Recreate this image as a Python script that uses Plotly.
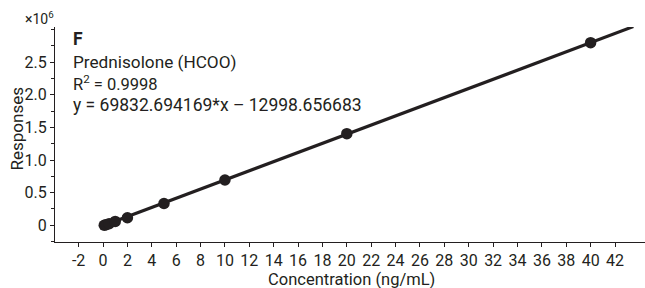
import plotly.graph_objects as go

conc = [0.1, 0.25, 0.5, 1, 2, 5, 10, 20, 40]
resp = [0, 10000, 25000, 60000, 115000, 335000, 695000, 1405000, 2800000]
fit_x = [0, 43.5]
fit_y = [-7000, 3046000]

x_ticks = list(range(-2, 43, 2))
x_ticktext = [str(v) for v in x_ticks]
y_tickvals = [0, 500000, 1000000, 1500000, 2000000, 2500000]
y_ticktext = ["0", "0.5", "1.0", "1.5", "2.0", "2.5"]

FONT = "Roboto, Arial, sans-serif"
INK = "#231f20"

# plot area in pixels: left 55, right 645, top 27, bottom 242
L, R, T, B = 55, 645, 27, 242


def px(x):
    return (x - L) / (R - L)


def py(y):
    return (B - y) / (B - T)


fig = go.Figure()
fig.add_trace(go.Scatter(x=fit_x, y=fit_y, mode="lines",
                         line=dict(color=INK, width=3.2), showlegend=False))
fig.add_trace(go.Scatter(x=conc, y=resp, mode="markers",
                         marker=dict(color=INK, size=11.5), showlegend=False))

fig.update_layout(
    template="none",
    width=645, height=288,
    margin=dict(l=L, r=645 - R, t=T, b=288 - B, pad=0),
    paper_bgcolor="white", plot_bgcolor="white",
    font=dict(family=FONT, size=15, color=INK),
    xaxis=dict(range=[-3.94, 44.46], tickvals=x_ticks, ticktext=x_ticktext,
               showgrid=False, zeroline=False, automargin=False,
               showline=True, linecolor=INK, linewidth=1, ticks="outside", ticklen=4,
               tickcolor=INK, tickfont=dict(size=16)),
    yaxis=dict(range=[-256000, 3040000], tickvals=y_tickvals, ticktext=y_ticktext,
               showgrid=False, zeroline=False, automargin=False,
               showline=True, linecolor=INK, linewidth=1,
               ticks="outside", ticklen=4, tickcolor=INK, tickfont=dict(size=16),
               minor=dict(dtick=250000, tick0=0, ticks="outside", ticklen=3, tickcolor=INK)),
)

fig.add_annotation(text="Concentration (ng/mL)", xref="paper", yref="paper",
                   x=px(351), y=py(279), xanchor="center", yanchor="middle",
                   showarrow=False, font=dict(size=16.5))
fig.add_annotation(text="Responses", xref="paper", yref="paper", textangle=-90,
                   x=px(16.5), y=py(129), xanchor="center", yanchor="middle",
                   showarrow=False, font=dict(size=17))
fig.add_annotation(text="×10<sup>6</sup>", xref="paper", yref="paper", x=px(56), y=py(18),
                   xanchor="right", yanchor="middle", showarrow=False, font=dict(size=14))
fig.add_annotation(text="<b>F</b>", xref="paper", yref="paper", x=px(71), y=py(39),
                   xanchor="left", yanchor="middle", showarrow=False, font=dict(size=17.5))
fig.add_annotation(text="Prednisolone (HCOO)", xref="paper", yref="paper", x=px(71),
                   y=py(62), xanchor="left", yanchor="middle", showarrow=False,
                   font=dict(size=17.2))
fig.add_annotation(text="R<sup>2</sup> = 0.9998", xref="paper", yref="paper", x=px(71),
                   y=py(83), xanchor="left", yanchor="middle", showarrow=False,
                   font=dict(size=16.5))
fig.add_annotation(text="y = 69832.694169*x – 12998.656683", xref="paper", yref="paper",
                   x=px(71), y=py(105), xanchor="left", yanchor="middle",
                   showarrow=False, font=dict(size=17.5))

fig.write_html("out.html", config={"displayModeBar": False},
               post_script="document.body.style.margin='0';document.body.style.padding='0';")
